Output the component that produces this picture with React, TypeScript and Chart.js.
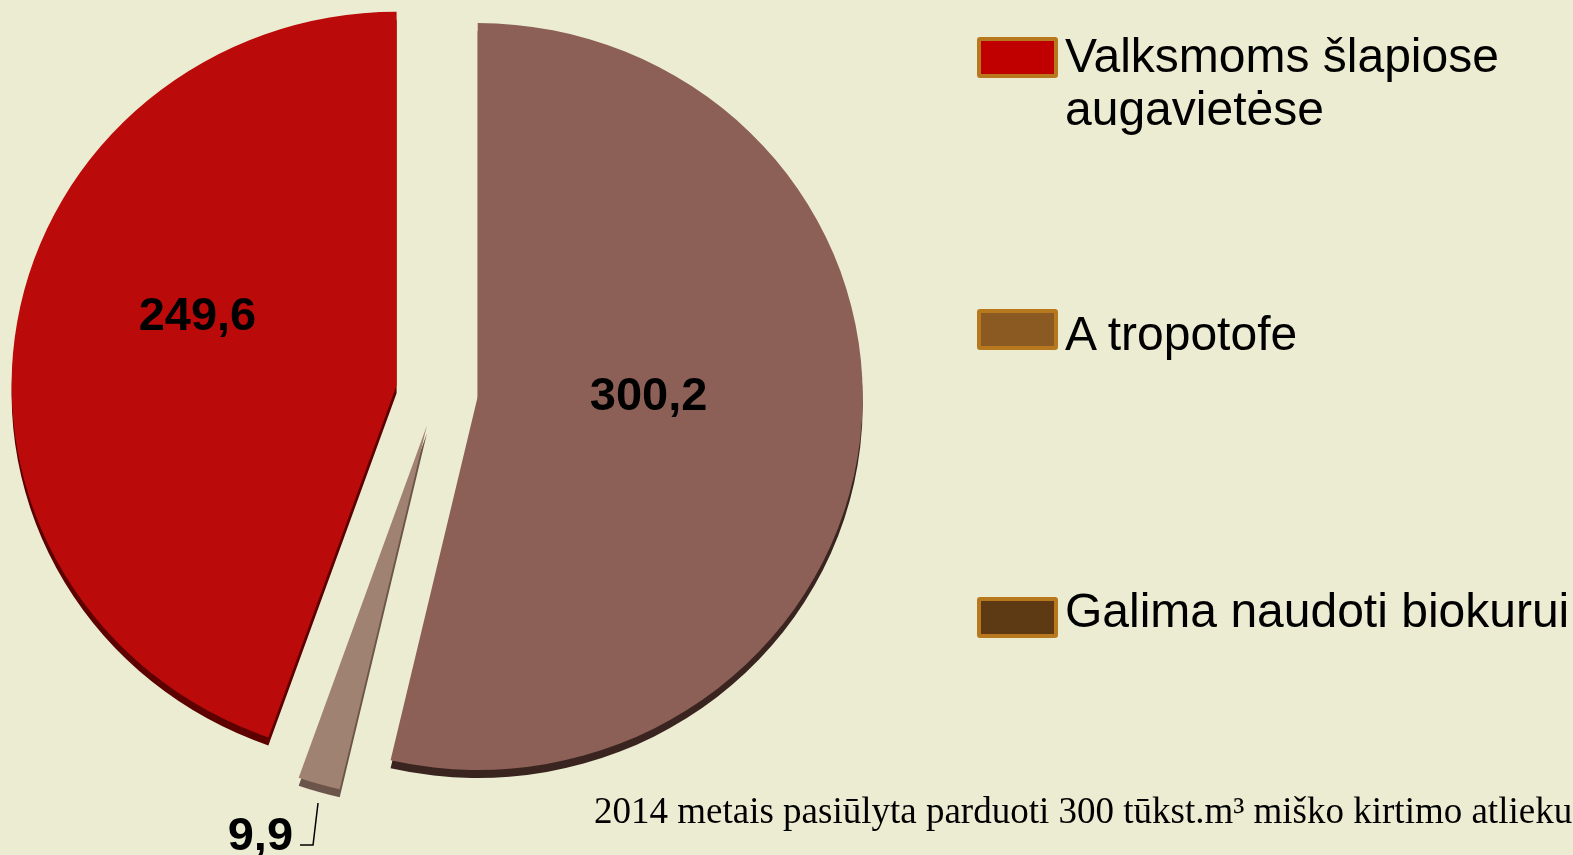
import React, { useEffect, useRef } from "react";
import { Chart, registerables } from "chart.js";

Chart.register(...registerables);

// ---- data ----
const sliceLabels = ["A tropotofe", "Galima naudoti biokurui", "Valksmoms šlapiose augavietėse"];
const sliceValues = [300.2, 9.9, 249.6];
const valueTexts = ["300,2", "9,9", "249,6"];
const legendLines = [["Valksmoms šlapiose", "augavietėse"], ["A tropotofe"], ["Galima naudoti biokurui"]];
const footnote = "2014 metais pasiūlyta parduoti 300 tūkst.m³ miško kirtimo atlieku";

// ---- styles ----
const BG = "#ECECD2";
const sliceColors = ["#8C6056", "#A08272", "#BB0A0A"];
const rimColors = ["#3A2420", "#6B5449", "#5C0000"];
const sliceExplode = [41, 36, 41];
const legendColors = ["#C00000", "#8B5A22", "#5E3A14"];
const legendBorder = "#B8791E";
const legendTextTops = [29, 307, 584];
const legendSwatchTops = [37, 309, 597];
const SQUASH = 0.97;
const RIM = 8;
// label placement: [fraction of radius from slice tip, angle shift in degrees]
const labelPlace: (null | [number, number])[] = [[0.444, -7.7], null, [0.552, 10.7]];
const FONT = "'Liberation Sans', Arial, Helvetica, sans-serif";

function midAngle(arc: any) {
  const p = arc.getProps(["startAngle", "endAngle"], true);
  return (p.startAngle + p.endAngle) / 2;
}

function drawArc(ctx: any, arc: any, i: number, dy: number, color?: string) {
  const mid = midAngle(arc);
  ctx.save();
  ctx.translate(Math.cos(mid) * sliceExplode[i], Math.sin(mid) * sliceExplode[i] + dy);
  if (color) {
    const o = arc.options;
    arc.options = { ...o, backgroundColor: color, borderWidth: 0 };
    arc.draw(ctx);
    arc.options = o;
  } else {
    arc.draw(ctx);
  }
  ctx.restore();
}

const pie3d = {
  id: "pie3d",
  beforeDatasetsDraw(chart: any) {
    const ctx = chart.ctx;
    const meta = chart.getDatasetMeta(0);
    const cx = meta.data[0].x,
      cy = meta.data[0].y;
    ctx.save();
    ctx.translate(cx, cy);
    ctx.scale(1, SQUASH);
    ctx.translate(-cx, -cy);
    meta.data.forEach((arc: any, i: number) => drawArc(ctx, arc, i, RIM / SQUASH, rimColors[i]));
    meta.data.forEach((arc: any, i: number) => drawArc(ctx, arc, i, 0));
    ctx.restore();
    return false;
  },
  afterDraw(chart: any) {
    const ctx = chart.ctx;
    const meta = chart.getDatasetMeta(0);
    ctx.save();
    ctx.fillStyle = "#000";
    ctx.font = `bold 47px ${FONT}`;
    ctx.textBaseline = "alphabetic";
    const cy0 = meta.data[0].y;
    const sq = (y: number) => cy0 + (y - cy0) * SQUASH;
    meta.data.forEach((arc: any, i: number) => {
      const p = arc.getProps(["x", "y", "outerRadius"], true);
      const mid = midAngle(arc);
      const tipX = p.x + Math.cos(mid) * sliceExplode[i];
      const tipY = p.y + Math.sin(mid) * sliceExplode[i];
      const place = labelPlace[i];
      if (place) {
        const ang = mid + (place[1] * Math.PI) / 180;
        const lx = tipX + Math.cos(ang) * p.outerRadius * place[0];
        const ly = sq(tipY + Math.sin(ang) * p.outerRadius * place[0]);
        ctx.textAlign = "center";
        ctx.fillText(valueTexts[i], lx, ly + 0.358 * 47);
      } else {
        const ox = tipX + Math.cos(mid) * p.outerRadius;
        const oy = sq(tipY + Math.sin(mid) * p.outerRadius) + RIM;
        const sx = ox - 1,
          sy = oy + 11;
        const ex = sx - 5,
          ey = sy + 42;
        ctx.strokeStyle = "#000";
        ctx.lineWidth = 1.5;
        ctx.beginPath();
        ctx.moveTo(sx, sy);
        ctx.lineTo(ex, ey);
        ctx.lineTo(ex - 13, ey);
        ctx.stroke();
        ctx.textAlign = "right";
        ctx.fillText(valueTexts[i], ex - 20, ey + 5);
      }
    });
    ctx.restore();
  },
};

export default function App() {
  const ref = useRef<HTMLCanvasElement | null>(null);
  useEffect(() => {
    if (!ref.current) return;
    Chart.defaults.font.family = FONT;
    const chart = new Chart(ref.current, {
      type: "pie",
      data: {
        labels: sliceLabels,
        datasets: [
          {
            data: sliceValues,
            backgroundColor: sliceColors,
            borderWidth: 0,
            offset: 0,
            radius: 385,
            clip: false,
          } as any,
        ],
      },
      options: {
        responsive: false,
        animation: false,
        events: [],
        layout: { padding: { left: 0, right: 699, top: 0, bottom: 71 } },
        plugins: { legend: { display: false }, tooltip: { enabled: false } },
      },
      plugins: [pie3d],
    });
    return () => chart.destroy();
  }, []);

  return (
    <div
      style={{
        position: "fixed",
        left: 0,
        top: 0,
        width: 1573,
        height: 855,
        background: BG,
        overflow: "hidden",
      }}
    >
      <canvas ref={ref} width={1573} height={855} style={{ position: "absolute", left: 0, top: 0 }} />
      {legendLines.map((lines, i) => (
        <div key={i}>
          <div
            style={{
              position: "absolute",
              left: 977,
              top: legendSwatchTops[i],
              width: 73,
              height: 33,
              background: legendColors[i],
              border: `4px solid ${legendBorder}`,
              borderRadius: 3,
            }}
          />
          <div
            style={{
              position: "absolute",
              left: 1065,
              top: legendTextTops[i],
              font: `48px/53px ${FONT}`,
              color: "#000",
              whiteSpace: "nowrap",
            }}
          >
            {lines.map((l, j) => (
              <div key={j}>{l}</div>
            ))}
          </div>
        </div>
      ))}
      <div
        style={{
          position: "absolute",
          left: 594,
          top: 792,
          font: "37px/37px 'Liberation Serif', 'Times New Roman', serif",
          color: "#000",
          whiteSpace: "nowrap",
        }}
      >
        {footnote}
      </div>
    </div>
  );
}
